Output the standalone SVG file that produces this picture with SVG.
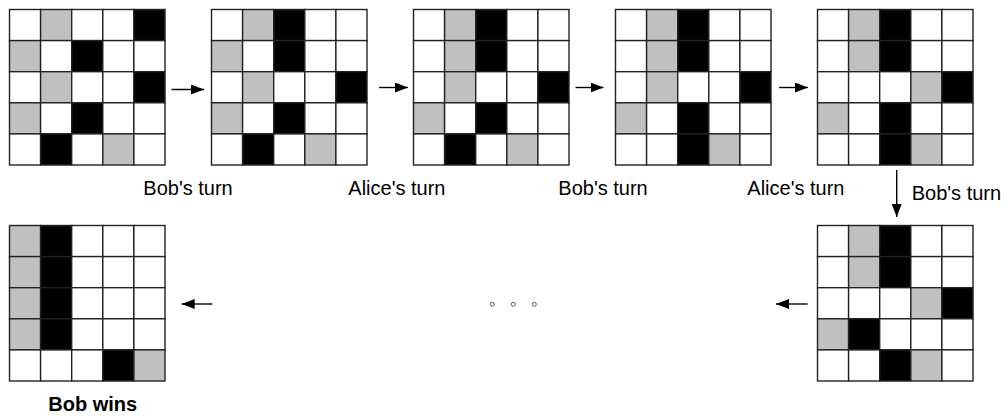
<svg xmlns="http://www.w3.org/2000/svg" width="1006" height="416" viewBox="0 0 1006 416">
<style>
.w{fill:#ffffff}
.g{fill:#c0c0c0}
.b{fill:#000000}
.grid rect{stroke:#222222;stroke-width:1.4}
.lbl{font-family:"Liberation Sans",Arial,sans-serif;font-size:20px;fill:#000}
.bold{font-weight:bold}
.conn line{stroke:#000;stroke-width:1.4;marker-end:url(#ah)}
.dot{fill:none;stroke:#555;stroke-width:1}
</style>
<defs>
<marker id="ah" markerUnits="userSpaceOnUse" markerWidth="14" markerHeight="10" refX="13" refY="5" orient="auto">
<path d="M0,0 L13,5 L0,10 Z" fill="#000"/>
</marker>
</defs>
<rect width="1006" height="416" fill="#fff"/>

<g id="grid1" class="grid" transform="translate(9.5,9.5)">
<rect class="w" x="0" y="0" width="31.1" height="31.1"/><rect class="g" x="31.1" y="0" width="31.1" height="31.1"/><rect class="w" x="62.2" y="0" width="31.1" height="31.1"/><rect class="w" x="93.3" y="0" width="31.1" height="31.1"/><rect class="b" x="124.4" y="0" width="31.1" height="31.1"/>
<rect class="g" x="0" y="31.1" width="31.1" height="31.1"/><rect class="w" x="31.1" y="31.1" width="31.1" height="31.1"/><rect class="b" x="62.2" y="31.1" width="31.1" height="31.1"/><rect class="w" x="93.3" y="31.1" width="31.1" height="31.1"/><rect class="w" x="124.4" y="31.1" width="31.1" height="31.1"/>
<rect class="w" x="0" y="62.2" width="31.1" height="31.1"/><rect class="g" x="31.1" y="62.2" width="31.1" height="31.1"/><rect class="w" x="62.2" y="62.2" width="31.1" height="31.1"/><rect class="w" x="93.3" y="62.2" width="31.1" height="31.1"/><rect class="b" x="124.4" y="62.2" width="31.1" height="31.1"/>
<rect class="g" x="0" y="93.3" width="31.1" height="31.1"/><rect class="w" x="31.1" y="93.3" width="31.1" height="31.1"/><rect class="b" x="62.2" y="93.3" width="31.1" height="31.1"/><rect class="w" x="93.3" y="93.3" width="31.1" height="31.1"/><rect class="w" x="124.4" y="93.3" width="31.1" height="31.1"/>
<rect class="w" x="0" y="124.4" width="31.1" height="31.1"/><rect class="b" x="31.1" y="124.4" width="31.1" height="31.1"/><rect class="w" x="62.2" y="124.4" width="31.1" height="31.1"/><rect class="g" x="93.3" y="124.4" width="31.1" height="31.1"/><rect class="w" x="124.4" y="124.4" width="31.1" height="31.1"/>
</g>

<g id="grid2" class="grid" transform="translate(211.5,9.5)">
<rect class="w" x="0" y="0" width="31.1" height="31.1"/><rect class="g" x="31.1" y="0" width="31.1" height="31.1"/><rect class="b" x="62.2" y="0" width="31.1" height="31.1"/><rect class="w" x="93.3" y="0" width="31.1" height="31.1"/><rect class="w" x="124.4" y="0" width="31.1" height="31.1"/>
<rect class="g" x="0" y="31.1" width="31.1" height="31.1"/><rect class="w" x="31.1" y="31.1" width="31.1" height="31.1"/><rect class="b" x="62.2" y="31.1" width="31.1" height="31.1"/><rect class="w" x="93.3" y="31.1" width="31.1" height="31.1"/><rect class="w" x="124.4" y="31.1" width="31.1" height="31.1"/>
<rect class="w" x="0" y="62.2" width="31.1" height="31.1"/><rect class="g" x="31.1" y="62.2" width="31.1" height="31.1"/><rect class="w" x="62.2" y="62.2" width="31.1" height="31.1"/><rect class="w" x="93.3" y="62.2" width="31.1" height="31.1"/><rect class="b" x="124.4" y="62.2" width="31.1" height="31.1"/>
<rect class="g" x="0" y="93.3" width="31.1" height="31.1"/><rect class="w" x="31.1" y="93.3" width="31.1" height="31.1"/><rect class="b" x="62.2" y="93.3" width="31.1" height="31.1"/><rect class="w" x="93.3" y="93.3" width="31.1" height="31.1"/><rect class="w" x="124.4" y="93.3" width="31.1" height="31.1"/>
<rect class="w" x="0" y="124.4" width="31.1" height="31.1"/><rect class="b" x="31.1" y="124.4" width="31.1" height="31.1"/><rect class="w" x="62.2" y="124.4" width="31.1" height="31.1"/><rect class="g" x="93.3" y="124.4" width="31.1" height="31.1"/><rect class="w" x="124.4" y="124.4" width="31.1" height="31.1"/>
</g>

<g id="grid3" class="grid" transform="translate(413.5,9.5)">
<rect class="w" x="0" y="0" width="31.1" height="31.1"/><rect class="g" x="31.1" y="0" width="31.1" height="31.1"/><rect class="b" x="62.2" y="0" width="31.1" height="31.1"/><rect class="w" x="93.3" y="0" width="31.1" height="31.1"/><rect class="w" x="124.4" y="0" width="31.1" height="31.1"/>
<rect class="w" x="0" y="31.1" width="31.1" height="31.1"/><rect class="g" x="31.1" y="31.1" width="31.1" height="31.1"/><rect class="b" x="62.2" y="31.1" width="31.1" height="31.1"/><rect class="w" x="93.3" y="31.1" width="31.1" height="31.1"/><rect class="w" x="124.4" y="31.1" width="31.1" height="31.1"/>
<rect class="w" x="0" y="62.2" width="31.1" height="31.1"/><rect class="g" x="31.1" y="62.2" width="31.1" height="31.1"/><rect class="w" x="62.2" y="62.2" width="31.1" height="31.1"/><rect class="w" x="93.3" y="62.2" width="31.1" height="31.1"/><rect class="b" x="124.4" y="62.2" width="31.1" height="31.1"/>
<rect class="g" x="0" y="93.3" width="31.1" height="31.1"/><rect class="w" x="31.1" y="93.3" width="31.1" height="31.1"/><rect class="b" x="62.2" y="93.3" width="31.1" height="31.1"/><rect class="w" x="93.3" y="93.3" width="31.1" height="31.1"/><rect class="w" x="124.4" y="93.3" width="31.1" height="31.1"/>
<rect class="w" x="0" y="124.4" width="31.1" height="31.1"/><rect class="b" x="31.1" y="124.4" width="31.1" height="31.1"/><rect class="w" x="62.2" y="124.4" width="31.1" height="31.1"/><rect class="g" x="93.3" y="124.4" width="31.1" height="31.1"/><rect class="w" x="124.4" y="124.4" width="31.1" height="31.1"/>
</g>

<g id="grid4" class="grid" transform="translate(615.5,9.5)">
<rect class="w" x="0" y="0" width="31.1" height="31.1"/><rect class="g" x="31.1" y="0" width="31.1" height="31.1"/><rect class="b" x="62.2" y="0" width="31.1" height="31.1"/><rect class="w" x="93.3" y="0" width="31.1" height="31.1"/><rect class="w" x="124.4" y="0" width="31.1" height="31.1"/>
<rect class="w" x="0" y="31.1" width="31.1" height="31.1"/><rect class="g" x="31.1" y="31.1" width="31.1" height="31.1"/><rect class="b" x="62.2" y="31.1" width="31.1" height="31.1"/><rect class="w" x="93.3" y="31.1" width="31.1" height="31.1"/><rect class="w" x="124.4" y="31.1" width="31.1" height="31.1"/>
<rect class="w" x="0" y="62.2" width="31.1" height="31.1"/><rect class="g" x="31.1" y="62.2" width="31.1" height="31.1"/><rect class="w" x="62.2" y="62.2" width="31.1" height="31.1"/><rect class="w" x="93.3" y="62.2" width="31.1" height="31.1"/><rect class="b" x="124.4" y="62.2" width="31.1" height="31.1"/>
<rect class="g" x="0" y="93.3" width="31.1" height="31.1"/><rect class="w" x="31.1" y="93.3" width="31.1" height="31.1"/><rect class="b" x="62.2" y="93.3" width="31.1" height="31.1"/><rect class="w" x="93.3" y="93.3" width="31.1" height="31.1"/><rect class="w" x="124.4" y="93.3" width="31.1" height="31.1"/>
<rect class="w" x="0" y="124.4" width="31.1" height="31.1"/><rect class="w" x="31.1" y="124.4" width="31.1" height="31.1"/><rect class="b" x="62.2" y="124.4" width="31.1" height="31.1"/><rect class="g" x="93.3" y="124.4" width="31.1" height="31.1"/><rect class="w" x="124.4" y="124.4" width="31.1" height="31.1"/>
</g>

<g id="grid5" class="grid" transform="translate(817.5,9.5)">
<rect class="w" x="0" y="0" width="31.1" height="31.1"/><rect class="g" x="31.1" y="0" width="31.1" height="31.1"/><rect class="b" x="62.2" y="0" width="31.1" height="31.1"/><rect class="w" x="93.3" y="0" width="31.1" height="31.1"/><rect class="w" x="124.4" y="0" width="31.1" height="31.1"/>
<rect class="w" x="0" y="31.1" width="31.1" height="31.1"/><rect class="g" x="31.1" y="31.1" width="31.1" height="31.1"/><rect class="b" x="62.2" y="31.1" width="31.1" height="31.1"/><rect class="w" x="93.3" y="31.1" width="31.1" height="31.1"/><rect class="w" x="124.4" y="31.1" width="31.1" height="31.1"/>
<rect class="w" x="0" y="62.2" width="31.1" height="31.1"/><rect class="w" x="31.1" y="62.2" width="31.1" height="31.1"/><rect class="w" x="62.2" y="62.2" width="31.1" height="31.1"/><rect class="g" x="93.3" y="62.2" width="31.1" height="31.1"/><rect class="b" x="124.4" y="62.2" width="31.1" height="31.1"/>
<rect class="g" x="0" y="93.3" width="31.1" height="31.1"/><rect class="w" x="31.1" y="93.3" width="31.1" height="31.1"/><rect class="b" x="62.2" y="93.3" width="31.1" height="31.1"/><rect class="w" x="93.3" y="93.3" width="31.1" height="31.1"/><rect class="w" x="124.4" y="93.3" width="31.1" height="31.1"/>
<rect class="w" x="0" y="124.4" width="31.1" height="31.1"/><rect class="w" x="31.1" y="124.4" width="31.1" height="31.1"/><rect class="b" x="62.2" y="124.4" width="31.1" height="31.1"/><rect class="g" x="93.3" y="124.4" width="31.1" height="31.1"/><rect class="w" x="124.4" y="124.4" width="31.1" height="31.1"/>
</g>

<g id="grid6" class="grid" transform="translate(817.5,225.5)">
<rect class="w" x="0" y="0" width="31.1" height="31.1"/><rect class="g" x="31.1" y="0" width="31.1" height="31.1"/><rect class="b" x="62.2" y="0" width="31.1" height="31.1"/><rect class="w" x="93.3" y="0" width="31.1" height="31.1"/><rect class="w" x="124.4" y="0" width="31.1" height="31.1"/>
<rect class="w" x="0" y="31.1" width="31.1" height="31.1"/><rect class="g" x="31.1" y="31.1" width="31.1" height="31.1"/><rect class="b" x="62.2" y="31.1" width="31.1" height="31.1"/><rect class="w" x="93.3" y="31.1" width="31.1" height="31.1"/><rect class="w" x="124.4" y="31.1" width="31.1" height="31.1"/>
<rect class="w" x="0" y="62.2" width="31.1" height="31.1"/><rect class="w" x="31.1" y="62.2" width="31.1" height="31.1"/><rect class="w" x="62.2" y="62.2" width="31.1" height="31.1"/><rect class="g" x="93.3" y="62.2" width="31.1" height="31.1"/><rect class="b" x="124.4" y="62.2" width="31.1" height="31.1"/>
<rect class="g" x="0" y="93.3" width="31.1" height="31.1"/><rect class="b" x="31.1" y="93.3" width="31.1" height="31.1"/><rect class="w" x="62.2" y="93.3" width="31.1" height="31.1"/><rect class="w" x="93.3" y="93.3" width="31.1" height="31.1"/><rect class="w" x="124.4" y="93.3" width="31.1" height="31.1"/>
<rect class="w" x="0" y="124.4" width="31.1" height="31.1"/><rect class="w" x="31.1" y="124.4" width="31.1" height="31.1"/><rect class="b" x="62.2" y="124.4" width="31.1" height="31.1"/><rect class="g" x="93.3" y="124.4" width="31.1" height="31.1"/><rect class="w" x="124.4" y="124.4" width="31.1" height="31.1"/>
</g>

<g id="grid7" class="grid" transform="translate(9.5,225.5)">
<rect class="g" x="0" y="0" width="31.1" height="31.1"/><rect class="b" x="31.1" y="0" width="31.1" height="31.1"/><rect class="w" x="62.2" y="0" width="31.1" height="31.1"/><rect class="w" x="93.3" y="0" width="31.1" height="31.1"/><rect class="w" x="124.4" y="0" width="31.1" height="31.1"/>
<rect class="g" x="0" y="31.1" width="31.1" height="31.1"/><rect class="b" x="31.1" y="31.1" width="31.1" height="31.1"/><rect class="w" x="62.2" y="31.1" width="31.1" height="31.1"/><rect class="w" x="93.3" y="31.1" width="31.1" height="31.1"/><rect class="w" x="124.4" y="31.1" width="31.1" height="31.1"/>
<rect class="g" x="0" y="62.2" width="31.1" height="31.1"/><rect class="b" x="31.1" y="62.2" width="31.1" height="31.1"/><rect class="w" x="62.2" y="62.2" width="31.1" height="31.1"/><rect class="w" x="93.3" y="62.2" width="31.1" height="31.1"/><rect class="w" x="124.4" y="62.2" width="31.1" height="31.1"/>
<rect class="g" x="0" y="93.3" width="31.1" height="31.1"/><rect class="b" x="31.1" y="93.3" width="31.1" height="31.1"/><rect class="w" x="62.2" y="93.3" width="31.1" height="31.1"/><rect class="w" x="93.3" y="93.3" width="31.1" height="31.1"/><rect class="w" x="124.4" y="93.3" width="31.1" height="31.1"/>
<rect class="w" x="0" y="124.4" width="31.1" height="31.1"/><rect class="w" x="31.1" y="124.4" width="31.1" height="31.1"/><rect class="w" x="62.2" y="124.4" width="31.1" height="31.1"/><rect class="b" x="93.3" y="124.4" width="31.1" height="31.1"/><rect class="g" x="124.4" y="124.4" width="31.1" height="31.1"/>
</g>

<g id="connectors" class="conn">
<line x1="171.5" y1="89.5" x2="204" y2="89.5"/>
<line x1="379" y1="87.5" x2="408" y2="87.5"/>
<line x1="575.5" y1="87.5" x2="603.5" y2="87.5"/>
<line x1="779" y1="87.5" x2="808" y2="87.5"/>
<line x1="896.7" y1="170" x2="896.7" y2="217"/>
<line x1="807.7" y1="304" x2="776" y2="304"/>
<line x1="212.3" y1="304" x2="181.7" y2="304"/>
</g>

<g id="ellipsis">
<circle class="dot" cx="492.3" cy="304.3" r="2"/>
<circle class="dot" cx="513.3" cy="304.3" r="2"/>
<circle class="dot" cx="534.3" cy="304.3" r="2"/>
</g>

<g id="labels">
<text class="lbl" x="143.3" y="195">Bob's turn</text>
<text class="lbl" x="348.3" y="195">Alice's turn</text>
<text class="lbl" x="558.3" y="195">Bob's turn</text>
<text class="lbl" x="747.3" y="195">Alice's turn</text>
<text class="lbl" x="911.7" y="200">Bob's turn</text>
<text class="lbl bold" x="48.3" y="411">Bob wins</text>
</g>
</svg>
